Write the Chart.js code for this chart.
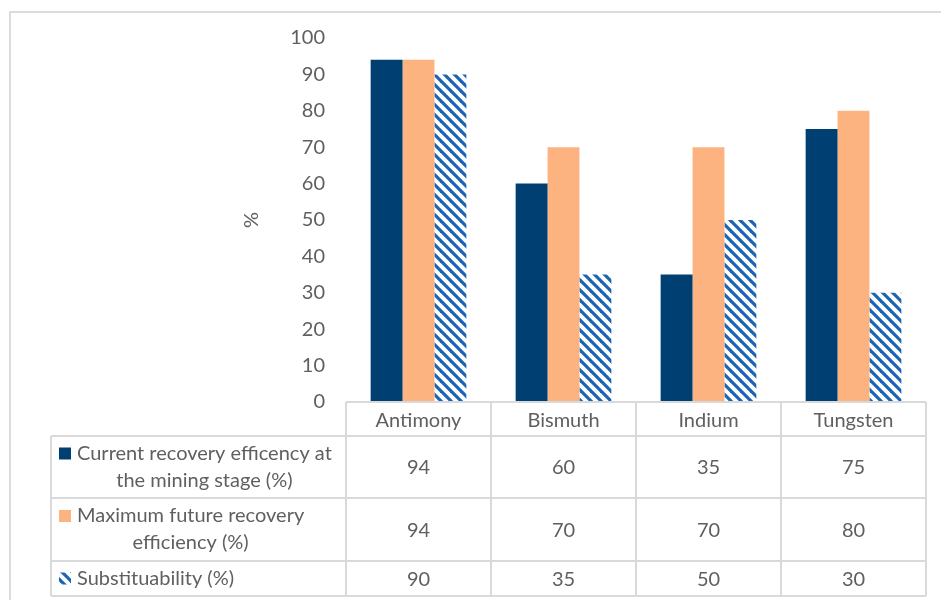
<!DOCTYPE html>
<html lang="en">
<head>
  <meta charset="UTF-8" />
  <title>Recovery efficiency and substituability</title>
  <script src="https://cdn.jsdelivr.net/npm/chart.js"></script>
  <style>
    body {
      margin: 0;
      background: #fff;
      overflow: hidden;
      font-family: Lato, sans-serif;
    }
    /* light frame, cut off at the right and bottom like the original figure */
    .frame {
      position: absolute;
      left: 9px;
      top: 11px;
      width: 980px;
      height: 640px;
      border-top: 2px solid #dcdcdc;
      border-left: 2px solid #dcdcdc;
    }
    .wrap {
      position: absolute;
      left: 0;
      top: 0;
      width: 941px;
      height: 600px;
    }
  </style>
</head>
<body>
  <div class="frame"></div>
  <div class="wrap"><canvas id="chart"></canvas></div>

  <script>
    const metals = ["Antimony", "Bismuth", "Indium", "Tungsten"];
    const currentRecovery = [94, 60, 35, 75];
    const maxFutureRecovery = [94, 70, 70, 80];
    const substituability = [90, 35, 50, 30];
    const seriesNames = [
      ["Current recovery efficency at", "the mining stage (%)"],
      ["Maximum future recovery", "efficiency (%)"],
      ["Substituability (%)"]
    ];
    const yMin = 0, yMax = 100, yStep = 10;

    const textColor = "#5f5f5f";
    const lineColor = "#d9d9d9";
    const font = "Lato, 'Open Sans', sans-serif";
    const fontSize = 20;

    // diagonal "\" hatch for the substituability bars
    function makeHatch(color) {
      const size = 10;
      const c = document.createElement("canvas");
      c.width = size; c.height = size;
      const g = c.getContext("2d");
      g.strokeStyle = color;
      g.lineWidth = 3.2;
      g.lineCap = "square";
      [-size, 0, size].forEach(off => {
        g.beginPath();
        g.moveTo(off, 0);
        g.lineTo(off + size, size);
        g.stroke();
      });
      return g.createPattern(c, "repeat");
    }
    const hatch = makeHatch("#1a64b5");

    // data table under the plot, drawn from the same datasets
    const tablePlugin = {
      id: "dataTable",
      afterDraw(chart) {
        const ctx = chart.ctx;
        const xs = chart.scales.x;
        const area = chart.chartArea;
        const half = (area.right - area.left) / metals.length / 2;
        const tableLeft = 51;
        const rowTops = [area.bottom, 436, 498, 561, 596];

        ctx.save();
        ctx.strokeStyle = lineColor;
        ctx.lineWidth = 2;
        ctx.beginPath();
        // header row top line only over the category columns
        ctx.moveTo(area.left, rowTops[0]); ctx.lineTo(area.right, rowTops[0]);
        for (let r = 1; r < rowTops.length; r++) {
          ctx.moveTo(tableLeft, rowTops[r]); ctx.lineTo(area.right, rowTops[r]);
        }
        ctx.moveTo(tableLeft, rowTops[1]); ctx.lineTo(tableLeft, rowTops[4]);
        for (let i = 0; i <= metals.length; i++) {
          const x = area.left + i * half * 2;
          ctx.moveTo(x, rowTops[0]); ctx.lineTo(x, rowTops[4]);
        }
        ctx.stroke();

        ctx.font = fontSize + "px " + font;
        ctx.fillStyle = textColor;
        ctx.textBaseline = "middle";
        chart.data.datasets.forEach((ds, i) => {
          const top = rowTops[i + 1], bottom = rowTops[i + 2];
          const mid = (top + bottom) / 2;

          // values
          ctx.textAlign = "center";
          ctx.fillStyle = textColor;
          ds.data.forEach((v, j) => {
            ctx.fillText(String(v), xs.getPixelForValue(j), mid + 1);
          });

          // series name with legend key
          const lines = seriesNames[i];
          const lh = 27;
          const firstY = mid - (lines.length - 1) * lh / 2;
          const blockW = Math.max(...lines.map(l => ctx.measureText(l).width));
          const blockX = 77;
          ctx.fillStyle = ds.backgroundColor;
          ctx.fillRect(59, firstY - 6, 12, 12);
          ctx.fillStyle = textColor;
          lines.forEach((l, k) => {
            ctx.fillText(l, blockX + blockW / 2, firstY + k * lh);
          });
        });
        ctx.restore();
      }
    };

    new Chart(document.getElementById("chart"), {
      type: "bar",
      data: {
        labels: metals,
        datasets: [
          { label: seriesNames[0].join(" "), data: currentRecovery, backgroundColor: "#003f72" },
          { label: seriesNames[1].join(" "), data: maxFutureRecovery, backgroundColor: "#fdb380" },
          { label: seriesNames[2].join(" "), data: substituability, backgroundColor: hatch }
        ]
      },
      options: {
        responsive: true,
        maintainAspectRatio: false,
        animation: false,
        layout: { padding: { left: 240, right: 15, top: 38, bottom: 0 } },
        datasets: { bar: { categoryPercentage: 0.66, barPercentage: 1 } },
        plugins: {
          legend: { display: false },
          tooltip: { enabled: false }
        },
        scales: {
          x: {
            grid: { display: false, drawTicks: false },
            border: { display: false },
            ticks: { color: textColor, font: { family: font, size: fontSize }, padding: 7 },
            afterFit: s => { s.height = 198; }
          },
          y: {
            min: yMin,
            max: yMax,
            grid: { display: false, drawTicks: false },
            border: { display: false },
            ticks: { stepSize: yStep, color: textColor, font: { family: font, size: fontSize }, padding: 21 },
            title: { display: true, text: "%", color: textColor, font: { family: font, size: fontSize }, padding: 0 },
            afterFit: s => { s.width = 106; }
          }
        }
      },
      plugins: [tablePlugin]
    });
  </script>
</body>
</html>
